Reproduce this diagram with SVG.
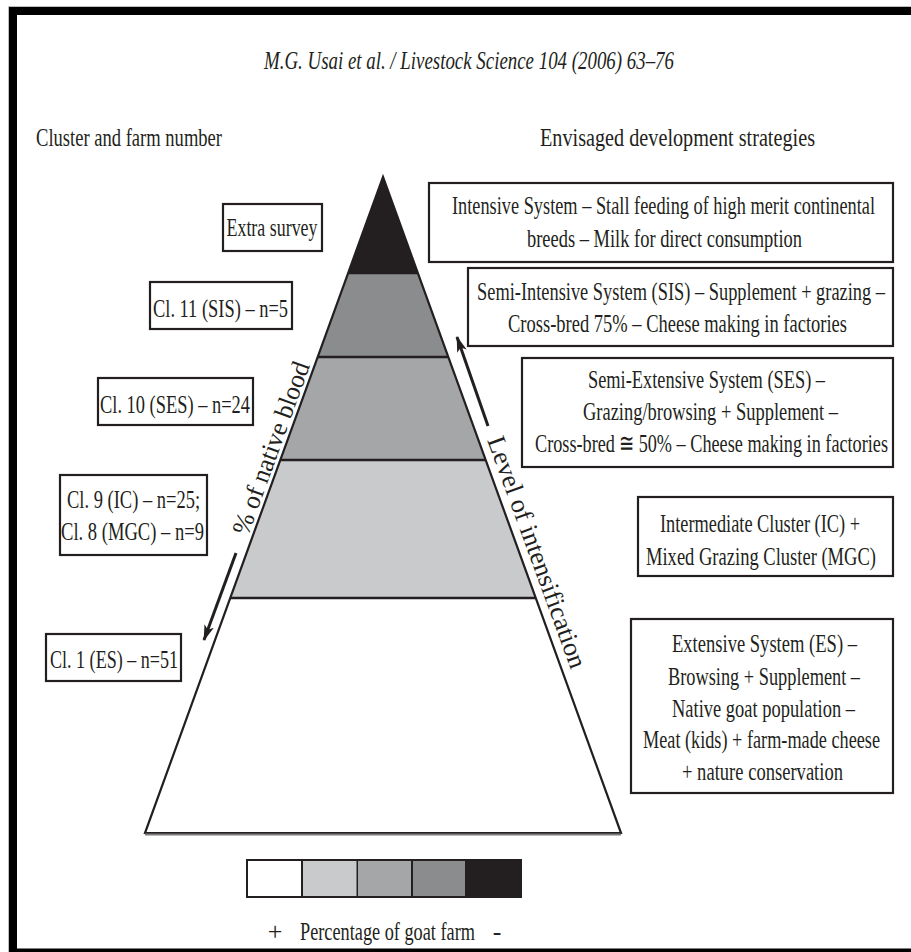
<svg xmlns="http://www.w3.org/2000/svg" width="911" height="952" viewBox="0 0 911 952">
  <style>
    text { font-family: "Liberation Serif", "Times New Roman", serif; fill: #231f20; font-size: 26px; }
    .c { text-anchor: middle; }
    .box { fill: #ffffff; stroke: #231f20; stroke-width: 2.2; }
    .edge { fill: none; stroke: #231f20; stroke-width: 2.2; stroke-linejoin: miter; }
    .sep { stroke: #231f20; stroke-width: 2.5; }
    .arrow { stroke: #231f20; stroke-width: 3; fill: none; marker-end: url(#head); }
  </style>
  <defs>
    <marker id="head" viewBox="0 0 16 10" refX="15" refY="5" markerWidth="16" markerHeight="10" markerUnits="userSpaceOnUse" orient="auto">
      <path d="M0,0 L16,5 L0,10 L4,5 Z" fill="#231f20"/>
    </marker>
  </defs>

  <rect width="911" height="952" fill="#ffffff"/>

  <!-- page frame -->
  <g id="frame">
    <line x1="8.5" y1="6.5" x2="911" y2="6.5" stroke="#bdbdbd" stroke-width="1"/>
    <line x1="8.5" y1="6.5" x2="8.5" y2="952" stroke="#bdbdbd" stroke-width="1"/>
    <rect x="9" y="7" width="902" height="8" fill="#000000"/>
    <rect x="9" y="7" width="8" height="945" fill="#000000"/>
    <rect x="9" y="948.5" width="902" height="3.5" fill="#000000"/>
  </g>

  <!-- headings (condensed serif: horizontal scale 0.7) -->
  <g id="title">
    <text class="c" transform="translate(469,69) scale(0.7,1)" font-style="italic" font-size="23" textLength="585.7" lengthAdjust="spacingAndGlyphs">M.G. Usai et al. / Livestock Science 104 (2006) 63–76</text>
  </g>
  <g id="heading-left">
    <text class="c" transform="translate(129,146) scale(0.7,1)" font-size="23" textLength="265.7" lengthAdjust="spacingAndGlyphs">Cluster and farm number</text>
  </g>
  <g id="heading-right">
    <text class="c" transform="translate(677.5,146) scale(0.7,1)" font-size="23" textLength="392.9" lengthAdjust="spacingAndGlyphs">Envisaged development strategies</text>
  </g>

  <!-- pyramid of farm clusters -->
  <g id="pyramid">
    <polygon points="383,177 417.8,273 348.2,273" fill="#231f20"/>
    <polygon points="348.2,273 417.8,273 448.3,357 317.7,357" fill="#8b8c8e"/>
    <polygon points="317.7,357 448.3,357 485.6,460 280.4,460" fill="#a4a6a8"/>
    <polygon points="280.4,460 485.6,460 535.7,598 230.3,598" fill="#c9cacc"/>
    <polygon points="230.3,598 535.7,598 621,833 145,833" fill="#ffffff"/>
    <line class="sep" x1="348.2" y1="273" x2="417.8" y2="273"/>
    <line class="sep" x1="317.7" y1="357" x2="448.3" y2="357"/>
    <line class="sep" x1="280.4" y1="460" x2="485.6" y2="460"/>
    <line class="sep" x1="230.3" y1="598" x2="535.7" y2="598"/>
    <polygon class="edge" points="383,177 621,833 145,833"/>
    <line x1="145" y1="834.5" x2="621" y2="834.5" stroke="#7a7a7a" stroke-width="2"/>
  </g>

  <!-- axis labels along the pyramid sides -->
  <g id="label-native-blood">
    <text class="c" transform="translate(279,451) rotate(-70)" x="0" y="0" font-size="23" textLength="182" lengthAdjust="spacingAndGlyphs">% of native blood</text>
  </g>
  <g id="label-intensification">
    <text class="c" transform="translate(529,555) rotate(70)" x="0" y="0" font-size="23" textLength="245" lengthAdjust="spacingAndGlyphs">Level of intensification</text>
  </g>

  <!-- connectors: direction arrows -->
  <g id="connectors">
    <line class="arrow" x1="236" y1="553" x2="204" y2="640"/>
    <line class="arrow" x1="488" y1="426" x2="457" y2="337"/>
  </g>

  <!-- cluster boxes (left) -->
  <g id="extra-survey">
    <rect class="box" x="223" y="204" width="99" height="47"/>
    <text class="c" transform="translate(272,236) scale(0.7,1)" textLength="130" lengthAdjust="spacingAndGlyphs">Extra survey</text>
  </g>
  <g id="cl11">
    <rect class="box" x="150" y="282" width="142" height="47"/>
    <text class="c" transform="translate(220.5,317) scale(0.7,1)" textLength="192.9" lengthAdjust="spacingAndGlyphs">Cl. 11 (SIS) – n=5</text>
  </g>
  <g id="cl10">
    <rect class="box" x="98" y="378" width="155" height="47"/>
    <text class="c" transform="translate(175,413) scale(0.7,1)" textLength="214.3" lengthAdjust="spacingAndGlyphs">Cl. 10 (SES) – n=24</text>
  </g>
  <g id="cl9-cl8">
    <rect class="box" x="60" y="475" width="147" height="80"/>
    <text class="c" transform="translate(133.5,508) scale(0.7,1)" textLength="190" lengthAdjust="spacingAndGlyphs">Cl. 9 (IC) – n=25;</text>
    <text class="c" transform="translate(132.5,540) scale(0.7,1)" textLength="204.3" lengthAdjust="spacingAndGlyphs">Cl. 8 (MGC) – n=9</text>
  </g>
  <g id="cl1">
    <rect class="box" x="46" y="634" width="135" height="47"/>
    <text class="c" transform="translate(114,668) scale(0.7,1)" textLength="182.9" lengthAdjust="spacingAndGlyphs">Cl. 1 (ES) – n=51</text>
  </g>

  <!-- development strategy boxes (right) -->
  <g id="intensive">
    <rect class="box" x="429" y="183" width="464" height="79"/>
    <text class="c" transform="translate(663.5,214) scale(0.7,1)" textLength="604.3" lengthAdjust="spacingAndGlyphs">Intensive System – Stall feeding of high merit continental</text>
    <text class="c" transform="translate(664.5,247) scale(0.7,1)" textLength="392.9" lengthAdjust="spacingAndGlyphs">breeds – Milk for direct consumption</text>
  </g>
  <g id="semi-intensive">
    <rect class="box" x="468" y="268" width="425" height="78"/>
    <text class="c" transform="translate(681,300) scale(0.7,1)" textLength="582.9" lengthAdjust="spacingAndGlyphs">Semi-Intensive System (SIS) – Supplement + grazing –</text>
    <text class="c" transform="translate(677.5,332) scale(0.7,1)" textLength="484.3" lengthAdjust="spacingAndGlyphs">Cross-bred 75% – Cheese making in factories</text>
  </g>
  <g id="semi-extensive">
    <rect class="box" x="522" y="358" width="371" height="109"/>
    <text class="c" transform="translate(706.5,388) scale(0.7,1)" textLength="338.6" lengthAdjust="spacingAndGlyphs">Semi-Extensive System (SES) –</text>
    <text class="c" transform="translate(710.5,420) scale(0.7,1)" textLength="364.3" lengthAdjust="spacingAndGlyphs">Grazing/browsing + Supplement –</text>
    <text class="c" transform="translate(711.5,452) scale(0.7,1)" textLength="504.3" lengthAdjust="spacingAndGlyphs">Cross-bred ≅ 50% – Cheese making in factories</text>
  </g>
  <g id="intermediate">
    <rect class="box" x="638" y="497" width="255" height="79"/>
    <text class="c" transform="translate(760,532) scale(0.7,1)" textLength="285.7" lengthAdjust="spacingAndGlyphs">Intermediate Cluster (IC) +</text>
    <text class="c" transform="translate(761,565) scale(0.7,1)" textLength="328.6" lengthAdjust="spacingAndGlyphs">Mixed Grazing Cluster (MGC)</text>
  </g>
  <g id="extensive">
    <rect class="box" x="631" y="619" width="262" height="174"/>
    <text class="c" transform="translate(764.5,652) scale(0.7,1)" textLength="264.3" lengthAdjust="spacingAndGlyphs">Extensive System (ES) –</text>
    <text class="c" transform="translate(764,685) scale(0.7,1)" textLength="274.3" lengthAdjust="spacingAndGlyphs">Browsing + Supplement –</text>
    <text class="c" transform="translate(763.5,717) scale(0.7,1)" textLength="261.4" lengthAdjust="spacingAndGlyphs">Native goat population –</text>
    <text class="c" transform="translate(761.5,748) scale(0.7,1)" textLength="338.6" lengthAdjust="spacingAndGlyphs">Meat (kids) + farm-made cheese</text>
    <text class="c" transform="translate(762.5,780) scale(0.7,1)" textLength="230" lengthAdjust="spacingAndGlyphs">+ nature conservation</text>
  </g>

  <!-- legend: shading scale -->
  <g id="legend">
    <rect x="246" y="859" width="276" height="39" fill="#231f20"/>
    <rect x="248" y="861" width="53" height="35" fill="#ffffff"/>
    <rect x="303" y="861" width="53.5" height="35" fill="#c9cacc"/>
    <rect x="358" y="861" width="53" height="35" fill="#a4a6a8"/>
    <rect x="413" y="861" width="52" height="35" fill="#8b8c8e"/>
    <text class="c" x="275" y="940" font-size="22">+</text>
    <text class="c" transform="translate(387.5,940) scale(0.7,1)" font-size="23" textLength="250" lengthAdjust="spacingAndGlyphs">Percentage of goat farm</text>
    <text class="c" x="497" y="940" font-size="22">-</text>
  </g>
</svg>
